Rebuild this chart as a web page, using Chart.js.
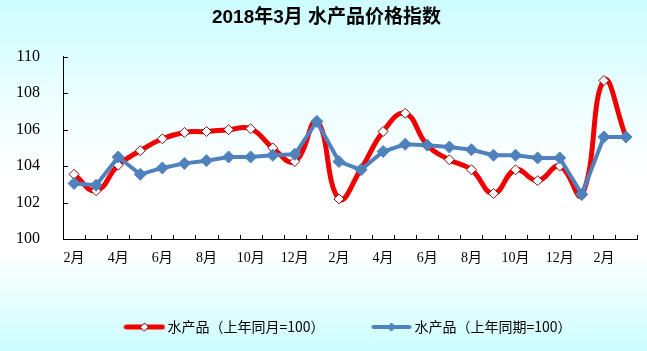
<!DOCTYPE html>
<html><head><meta charset="utf-8">
<script src="https://cdn.jsdelivr.net/npm/chart.js@4"></script>
<style>
html,body{margin:0;padding:0;}
body{width:647px;height:351px;overflow:hidden;background:linear-gradient(to bottom,#ccfdff 0%,#eefeff 30%,#ffffff 50%,#ffffff 72%,#ccfdff 100%);}
#wrap{position:relative;width:647px;height:351px;}
</style></head><body>
<div id="wrap"><canvas id="c" width="647" height="351"></canvas></div>
<script>
const categories = ['2月','3月','4月','5月','6月','7月','8月','9月','10月','11月','12月',
  '1月','2月','3月','4月','5月','6月','7月','8月','9月','10月','11月','12月',
  '1月','2月','3月'];
const seriesMonthOnMonth = [103.55,102.65,104.05,104.85,105.5,105.85,105.9,106.0,106.05,105.0,104.25,
  106.45,102.2,103.85,105.9,106.9,105.15,104.35,103.8,102.5,103.8,103.2,104.0,
  102.4,108.7,105.6];
const seriesYearOnYear = [103.05,102.95,104.5,103.55,103.9,104.15,104.3,104.5,104.5,104.6,104.65,
  106.45,104.25,103.8,104.8,105.2,105.15,105.05,104.9,104.6,104.6,104.45,104.45,
  102.45,105.6,105.6];
const seriesNames = ['水产品（上年同月=100）','水产品（上年同期=100）'];
const yTicks = [100,102,104,106,108,110];
const titleText = '2018年3月 水产品价格指数';

const RED = '#f00000', RED_EDGE = '#7a1010', BLUE = '#4f81bd';

function legendImg(color, lw, fill, edge, r){
  const c = document.createElement('canvas'); c.width = 42; c.height = 14;
  const g = c.getContext('2d');
  g.strokeStyle = color; g.lineWidth = lw; g.lineCap = 'round';
  g.beginPath(); g.moveTo(3,7); g.lineTo(39,7); g.stroke();
  g.beginPath(); g.moveTo(21-r,7); g.lineTo(21,7-r); g.lineTo(21+r,7); g.lineTo(21,7+r); g.closePath();
  g.fillStyle = fill; g.fill(); g.strokeStyle = edge; g.lineWidth = 1; g.stroke();
  return c;
}

const innerTicks = {
  id: 'innerTicks',
  beforeDatasetsDraw(chart){
    const {ctx, chartArea:a, scales:{x, y}} = chart;
    ctx.save(); ctx.strokeStyle = '#000'; ctx.lineWidth = 1; ctx.beginPath();
    for (let i = 0; i <= categories.length; i++){
      const px = Math.round(x.getPixelForValue(i - 0.5)) + 0.5;
      ctx.moveTo(px, a.bottom); ctx.lineTo(px, a.bottom - 4);
    }
    y.ticks.forEach(t => {
      const py = Math.round(y.getPixelForValue(t.value)) + 0.5;
      ctx.moveTo(a.left, py); ctx.lineTo(a.left + 5, py);
    });
    ctx.stroke(); ctx.restore();
  }
};

const imgs = [legendImg(RED,5,'#fff',RED_EDGE,4), legendImg(BLUE,4,BLUE,BLUE,4)];

new Chart(document.getElementById('c'), {
  type: 'line',
  data: {
    labels: categories,
    datasets: [
      {label: seriesNames[0], data: seriesMonthOnMonth, order: 1,
       borderColor: RED, borderWidth: 5, tension: 0.45,
       pointStyle: 'rectRot', pointRadius: 5, pointBackgroundColor: '#fff',
       pointBorderColor: RED_EDGE, pointBorderWidth: 1},
      {label: seriesNames[1], data: seriesYearOnYear, order: 0,
       borderColor: BLUE, borderWidth: 4, tension: 0,
       pointStyle: 'rectRot', pointRadius: 6, pointBackgroundColor: BLUE,
       pointBorderColor: BLUE, pointBorderWidth: 1}
    ]
  },
  options: {
    responsive: false, animation: false,
    layout: {padding: {left: 16, right: 10, top: 0, bottom: 7}},
    plugins: {
      tooltip: {enabled: false},
      title: {display: true, text: titleText, color: '#000',
        font: {family: "'Liberation Sans','Noto Sans CJK SC'", size: 19, weight: 'bold', lineHeight: 1.2},
        padding: {top: 6, bottom: 28}},
      legend: {
        position: 'bottom', fullSize: false,
        labels: {
          usePointStyle: true, pointStyleWidth: 32, padding: 51, color: '#000',
          font: {family: "'Noto Sans CJK SC'", size: 14},
          generateLabels: () => seriesNames.map((t, i) => ({
            text: t, pointStyle: imgs[i], datasetIndex: i, hidden: false,
            fontColor: '#000', lineWidth: 0, strokeStyle: 'rgba(0,0,0,0)', fillStyle: 'rgba(0,0,0,0)'
          }))
        }
      }
    },
    scales: {
      x: {
        offset: true,
        grid: {display: false, drawTicks: false, offset: true},
        border: {display: true, color: '#000', width: 1},
        afterFit: s => { s.height = 30; },
        ticks: {
          autoSkip: false, maxRotation: 0, padding: 8, color: '#000',
          font: {family: "'Liberation Serif','Noto Sans CJK SC'", size: 14, lineHeight: '22px'},
          callback: (v, i) => (i % 2 === 0 ? categories[i] : '')
        }
      },
      y: {
        min: 100, max: 110,
        afterBuildTicks: s => { s.ticks = yTicks.map(v => ({value: v})); },
        afterFit: s => { s.width = 47; },
        grid: {display: false, drawTicks: false},
        border: {display: true, color: '#000', width: 1},
        ticks: {padding: 23, color: '#000',
          font: {family: "'Liberation Serif'", size: 16}}
      }
    }
  },
  plugins: [innerTicks]
});
</script>
</body></html>
